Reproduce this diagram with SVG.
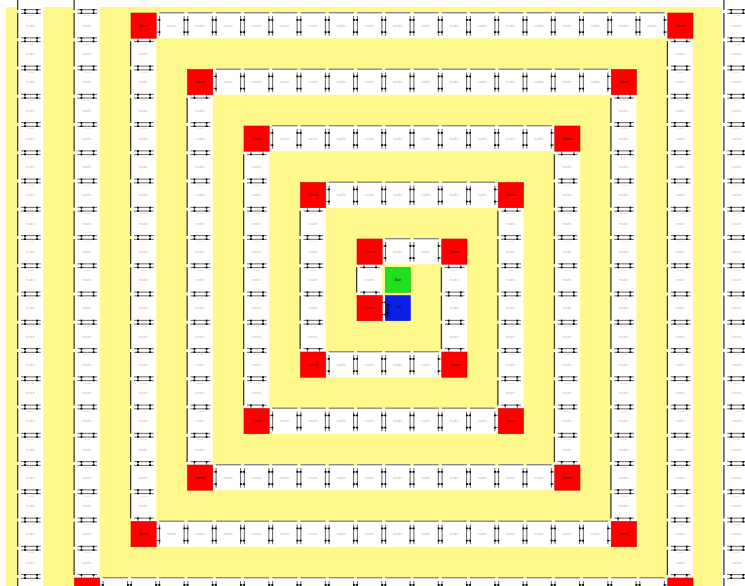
<svg xmlns="http://www.w3.org/2000/svg" width="745" height="586" viewBox="0 0 745 586">
<style>
.w{fill:#fff}
.sh{fill:#8c8c8c}
.vs{fill:#3c3c3c}
.pl{stroke:#222;stroke-width:.7;fill:none}
.pt{fill:#000}
.t{font-family:"Liberation Sans",Arial,sans-serif;font-size:3px;fill:#a8a8a8;text-anchor:middle;letter-spacing:.6px}
.q{font-family:"Liberation Sans",Arial,sans-serif;font-size:1.8px;fill:#7fa8e0;text-anchor:middle;letter-spacing:.4px}
.rt{font-family:"Liberation Sans",Arial,sans-serif;font-size:3.2px;fill:#111;text-anchor:middle}
.e{stroke:#000;stroke-width:.5;stroke-dasharray:3 25;fill:none}
.red{fill:#ff0000;stroke:#c80000;stroke-width:.6}
</style>
<defs>
<g id="H">
<rect class="sh" x="0" y="-1" width="25" height="1.4"/>
<path class="pl" d="M0.35 3V22.5M24.65 3V22.5"/>
<path class="pt" d="M-0.8 6h1.8v1.8h-1.8zM-0.8 18h1.8v1.8h-1.8zM24 6h1.8v1.8h-1.8zM24 18h1.8v1.8h-1.8z"/>
<text class="t" x="12.5" y="13.8">node</text>
</g>
<g id="V">
<rect class="vs" x="-1" y="0" width="1.3" height="25"/>
<path class="pl" d="M3 0.35H22.5M3 24.65H22.5"/>
<path class="pt" d="M6 -0.8h1.8v1.8h-1.8zM18 -0.8h1.8v1.8h-1.8zM6 24h1.8v1.8h-1.8zM18 24h1.8v1.8h-1.8z"/>
<text class="q" x="12.5" y="3.4">in out</text>
<text class="t" x="12.5" y="13.8">node</text>
</g>
<g id="R">
<rect class="red" width="25" height="25"/>
<text class="rt" x="12.5" y="13.8">Corner</text>
</g>
</defs>
<rect width="745" height="586" fill="#fff"/>
<rect x="6" y="7" width="716" height="580" fill="#fff98c"/>
<g transform="translate(357 239) scale(1.00893)">
<g id="strips">
<rect class="w" x="0" y="56" width="53" height="25"/>
<rect class="w" x="0" y="0" width="25" height="81"/>
<rect class="w" x="0" y="0" width="109" height="25"/>
<rect class="w" x="84" y="0" width="25" height="137"/>
<rect class="w" x="-56" y="112" width="165" height="25"/>
<rect class="w" x="-56" y="-56" width="25" height="193"/>
<rect class="w" x="-56" y="-56" width="221" height="25"/>
<rect class="w" x="140" y="-56" width="25" height="249"/>
<rect class="w" x="-112" y="168" width="277" height="25"/>
<rect class="w" x="-112" y="-112" width="25" height="305"/>
<rect class="w" x="-112" y="-112" width="333" height="25"/>
<rect class="w" x="196" y="-112" width="25" height="361"/>
<rect class="w" x="-168" y="224" width="389" height="25"/>
<rect class="w" x="-168" y="-168" width="25" height="417"/>
<rect class="w" x="-168" y="-168" width="445" height="25"/>
<rect class="w" x="252" y="-168" width="25" height="473"/>
<rect class="w" x="-224" y="280" width="501" height="25"/>
<rect class="w" x="-224" y="-224" width="25" height="529"/>
<rect class="w" x="-224" y="-224" width="557" height="25"/>
<rect class="w" x="308" y="-224" width="25" height="585"/>
<rect class="w" x="-280" y="336" width="613" height="25"/>
<rect class="w" x="-280" y="-280" width="25" height="641"/>
<rect class="w" x="364" y="-280" width="25" height="700"/>
<rect class="w" x="-336" y="-280" width="25" height="700"/>
</g>
<g id="connectors">
<path class="e" d="M25 62.9H28"/><path class="e" d="M25 74.9H28"/>
<path class="e" d="M6.9 25V56"/><path class="e" d="M18.9 25V56"/>
<path class="e" d="M25 6.9H84"/><path class="e" d="M25 18.9H84"/>
<path class="e" d="M90.9 25V112"/><path class="e" d="M102.9 25V112"/>
<path class="e" d="M-31 118.9H84"/><path class="e" d="M-31 130.9H84"/>
<path class="e" d="M-49.1 -31V112"/><path class="e" d="M-37.1 -31V112"/>
<path class="e" d="M-31 -49.1H140"/><path class="e" d="M-31 -37.1H140"/>
<path class="e" d="M146.9 -31V168"/><path class="e" d="M158.9 -31V168"/>
<path class="e" d="M-87 174.9H140"/><path class="e" d="M-87 186.9H140"/>
<path class="e" d="M-105.1 -87V168"/><path class="e" d="M-93.1 -87V168"/>
<path class="e" d="M-87 -105.1H196"/><path class="e" d="M-87 -93.1H196"/>
<path class="e" d="M202.9 -87V224"/><path class="e" d="M214.9 -87V224"/>
<path class="e" d="M-143 230.9H196"/><path class="e" d="M-143 242.9H196"/>
<path class="e" d="M-161.1 -143V224"/><path class="e" d="M-149.1 -143V224"/>
<path class="e" d="M-143 -161.1H252"/><path class="e" d="M-143 -149.1H252"/>
<path class="e" d="M258.9 -143V280"/><path class="e" d="M270.9 -143V280"/>
<path class="e" d="M-199 286.9H252"/><path class="e" d="M-199 298.9H252"/>
<path class="e" d="M-217.1 -199V280"/><path class="e" d="M-205.1 -199V280"/>
<path class="e" d="M-199 -217.1H308"/><path class="e" d="M-199 -205.1H308"/>
<path class="e" d="M314.9 -199V336"/><path class="e" d="M326.9 -199V336"/>
<path class="e" d="M-255 342.9H308"/><path class="e" d="M-255 354.9H308"/>
<path class="e" d="M-273.1 -255V336"/><path class="e" d="M-261.1 -255V336"/>
<path class="e" d="M370.9 -255V364"/><path class="e" d="M382.9 -255V364"/>
<path class="e" d="M-329.1 -255V364"/><path class="e" d="M-317.1 -255V364"/>
</g>
<g id="center">
<g id="green"><rect x="28" y="28" width="25" height="25" fill="#1ee01e" stroke="#14b014" stroke-width=".5"/><text class="rt" x="40.5" y="41.5">Start</text></g>
<g id="blue"><rect x="28" y="56" width="25" height="25" fill="#0a1ee8" stroke="#0814b0" stroke-width=".5"/><text class="rt" x="41.5" y="68.5">End</text><text transform="translate(28.3 64.5) rotate(90)" font-family="Liberation Sans,Arial,sans-serif" font-size="5" fill="#000">Begin</text>
<path class="pt" d="M24 62h1.8v1.8h-1.8zM24 74h1.8v1.8h-1.8zM27.2 62h1.8v1.8h-1.8zM27.2 74h1.8v1.8h-1.8z"/><path class="pl" d="M28.4 59V78"/></g>
<use id="r1" href="#R" x="0" y="56"/>
</g>
<g id="nodes">
<use id="n1" href="#V" x="0" y="28"/>
<use id="r2" href="#R" x="0" y="0"/>
<use id="n2" href="#H" x="28" y="0"/><use id="n3" href="#H" x="56" y="0"/>
<use id="r3" href="#R" x="84" y="0"/>
<use id="n4" href="#V" x="84" y="28"/><use id="n5" href="#V" x="84" y="56"/><use id="n6" href="#V" x="84" y="84"/>
<use id="r4" href="#R" x="84" y="112"/>
<use id="n7" href="#H" x="56" y="112"/><use id="n8" href="#H" x="28" y="112"/><use id="n9" href="#H" x="0" y="112"/><use id="n10" href="#H" x="-28" y="112"/>
<use id="r5" href="#R" x="-56" y="112"/>
<use id="n11" href="#V" x="-56" y="84"/><use id="n12" href="#V" x="-56" y="56"/><use id="n13" href="#V" x="-56" y="28"/><use id="n14" href="#V" x="-56" y="0"/><use id="n15" href="#V" x="-56" y="-28"/>
<use id="r6" href="#R" x="-56" y="-56"/>
<use id="n16" href="#H" x="-28" y="-56"/><use id="n17" href="#H" x="0" y="-56"/><use id="n18" href="#H" x="28" y="-56"/><use id="n19" href="#H" x="56" y="-56"/><use id="n20" href="#H" x="84" y="-56"/><use id="n21" href="#H" x="112" y="-56"/>
<use id="r7" href="#R" x="140" y="-56"/>
<use id="n22" href="#V" x="140" y="-28"/><use id="n23" href="#V" x="140" y="0"/><use id="n24" href="#V" x="140" y="28"/><use id="n25" href="#V" x="140" y="56"/><use id="n26" href="#V" x="140" y="84"/><use id="n27" href="#V" x="140" y="112"/><use id="n28" href="#V" x="140" y="140"/>
<use id="r8" href="#R" x="140" y="168"/>
<use id="n29" href="#H" x="112" y="168"/><use id="n30" href="#H" x="84" y="168"/><use id="n31" href="#H" x="56" y="168"/><use id="n32" href="#H" x="28" y="168"/><use id="n33" href="#H" x="0" y="168"/><use id="n34" href="#H" x="-28" y="168"/><use id="n35" href="#H" x="-56" y="168"/><use id="n36" href="#H" x="-84" y="168"/>
<use id="r9" href="#R" x="-112" y="168"/>
<use id="n37" href="#V" x="-112" y="140"/><use id="n38" href="#V" x="-112" y="112"/><use id="n39" href="#V" x="-112" y="84"/><use id="n40" href="#V" x="-112" y="56"/><use id="n41" href="#V" x="-112" y="28"/><use id="n42" href="#V" x="-112" y="0"/><use id="n43" href="#V" x="-112" y="-28"/><use id="n44" href="#V" x="-112" y="-56"/><use id="n45" href="#V" x="-112" y="-84"/>
<use id="r10" href="#R" x="-112" y="-112"/>
<use id="n46" href="#H" x="-84" y="-112"/><use id="n47" href="#H" x="-56" y="-112"/><use id="n48" href="#H" x="-28" y="-112"/><use id="n49" href="#H" x="0" y="-112"/><use id="n50" href="#H" x="28" y="-112"/><use id="n51" href="#H" x="56" y="-112"/><use id="n52" href="#H" x="84" y="-112"/><use id="n53" href="#H" x="112" y="-112"/><use id="n54" href="#H" x="140" y="-112"/><use id="n55" href="#H" x="168" y="-112"/>
<use id="r11" href="#R" x="196" y="-112"/>
<use id="n56" href="#V" x="196" y="-84"/><use id="n57" href="#V" x="196" y="-56"/><use id="n58" href="#V" x="196" y="-28"/><use id="n59" href="#V" x="196" y="0"/><use id="n60" href="#V" x="196" y="28"/><use id="n61" href="#V" x="196" y="56"/><use id="n62" href="#V" x="196" y="84"/><use id="n63" href="#V" x="196" y="112"/><use id="n64" href="#V" x="196" y="140"/><use id="n65" href="#V" x="196" y="168"/><use id="n66" href="#V" x="196" y="196"/>
<use id="r12" href="#R" x="196" y="224"/>
<use id="n67" href="#H" x="168" y="224"/><use id="n68" href="#H" x="140" y="224"/><use id="n69" href="#H" x="112" y="224"/><use id="n70" href="#H" x="84" y="224"/><use id="n71" href="#H" x="56" y="224"/><use id="n72" href="#H" x="28" y="224"/><use id="n73" href="#H" x="0" y="224"/><use id="n74" href="#H" x="-28" y="224"/><use id="n75" href="#H" x="-56" y="224"/><use id="n76" href="#H" x="-84" y="224"/><use id="n77" href="#H" x="-112" y="224"/><use id="n78" href="#H" x="-140" y="224"/>
<use id="r13" href="#R" x="-168" y="224"/>
<use id="n79" href="#V" x="-168" y="196"/><use id="n80" href="#V" x="-168" y="168"/><use id="n81" href="#V" x="-168" y="140"/><use id="n82" href="#V" x="-168" y="112"/><use id="n83" href="#V" x="-168" y="84"/><use id="n84" href="#V" x="-168" y="56"/><use id="n85" href="#V" x="-168" y="28"/><use id="n86" href="#V" x="-168" y="0"/><use id="n87" href="#V" x="-168" y="-28"/><use id="n88" href="#V" x="-168" y="-56"/><use id="n89" href="#V" x="-168" y="-84"/><use id="n90" href="#V" x="-168" y="-112"/><use id="n91" href="#V" x="-168" y="-140"/>
<use id="r14" href="#R" x="-168" y="-168"/>
<use id="n92" href="#H" x="-140" y="-168"/><use id="n93" href="#H" x="-112" y="-168"/><use id="n94" href="#H" x="-84" y="-168"/><use id="n95" href="#H" x="-56" y="-168"/><use id="n96" href="#H" x="-28" y="-168"/><use id="n97" href="#H" x="0" y="-168"/><use id="n98" href="#H" x="28" y="-168"/><use id="n99" href="#H" x="56" y="-168"/><use id="n100" href="#H" x="84" y="-168"/><use id="n101" href="#H" x="112" y="-168"/><use id="n102" href="#H" x="140" y="-168"/><use id="n103" href="#H" x="168" y="-168"/><use id="n104" href="#H" x="196" y="-168"/><use id="n105" href="#H" x="224" y="-168"/>
<use id="r15" href="#R" x="252" y="-168"/>
<use id="n106" href="#V" x="252" y="-140"/><use id="n107" href="#V" x="252" y="-112"/><use id="n108" href="#V" x="252" y="-84"/><use id="n109" href="#V" x="252" y="-56"/><use id="n110" href="#V" x="252" y="-28"/><use id="n111" href="#V" x="252" y="0"/><use id="n112" href="#V" x="252" y="28"/><use id="n113" href="#V" x="252" y="56"/><use id="n114" href="#V" x="252" y="84"/><use id="n115" href="#V" x="252" y="112"/><use id="n116" href="#V" x="252" y="140"/><use id="n117" href="#V" x="252" y="168"/><use id="n118" href="#V" x="252" y="196"/><use id="n119" href="#V" x="252" y="224"/><use id="n120" href="#V" x="252" y="252"/>
<use id="r16" href="#R" x="252" y="280"/>
<use id="n121" href="#H" x="224" y="280"/><use id="n122" href="#H" x="196" y="280"/><use id="n123" href="#H" x="168" y="280"/><use id="n124" href="#H" x="140" y="280"/><use id="n125" href="#H" x="112" y="280"/><use id="n126" href="#H" x="84" y="280"/><use id="n127" href="#H" x="56" y="280"/><use id="n128" href="#H" x="28" y="280"/><use id="n129" href="#H" x="0" y="280"/><use id="n130" href="#H" x="-28" y="280"/><use id="n131" href="#H" x="-56" y="280"/><use id="n132" href="#H" x="-84" y="280"/><use id="n133" href="#H" x="-112" y="280"/><use id="n134" href="#H" x="-140" y="280"/><use id="n135" href="#H" x="-168" y="280"/><use id="n136" href="#H" x="-196" y="280"/>
<use id="r17" href="#R" x="-224" y="280"/>
<use id="n137" href="#V" x="-224" y="252"/><use id="n138" href="#V" x="-224" y="224"/><use id="n139" href="#V" x="-224" y="196"/><use id="n140" href="#V" x="-224" y="168"/><use id="n141" href="#V" x="-224" y="140"/><use id="n142" href="#V" x="-224" y="112"/><use id="n143" href="#V" x="-224" y="84"/><use id="n144" href="#V" x="-224" y="56"/><use id="n145" href="#V" x="-224" y="28"/><use id="n146" href="#V" x="-224" y="0"/><use id="n147" href="#V" x="-224" y="-28"/><use id="n148" href="#V" x="-224" y="-56"/><use id="n149" href="#V" x="-224" y="-84"/><use id="n150" href="#V" x="-224" y="-112"/><use id="n151" href="#V" x="-224" y="-140"/><use id="n152" href="#V" x="-224" y="-168"/><use id="n153" href="#V" x="-224" y="-196"/>
<use id="r18" href="#R" x="-224" y="-224"/>
<use id="n154" href="#H" x="-196" y="-224"/><use id="n155" href="#H" x="-168" y="-224"/><use id="n156" href="#H" x="-140" y="-224"/><use id="n157" href="#H" x="-112" y="-224"/><use id="n158" href="#H" x="-84" y="-224"/><use id="n159" href="#H" x="-56" y="-224"/><use id="n160" href="#H" x="-28" y="-224"/><use id="n161" href="#H" x="0" y="-224"/><use id="n162" href="#H" x="28" y="-224"/><use id="n163" href="#H" x="56" y="-224"/><use id="n164" href="#H" x="84" y="-224"/><use id="n165" href="#H" x="112" y="-224"/><use id="n166" href="#H" x="140" y="-224"/><use id="n167" href="#H" x="168" y="-224"/><use id="n168" href="#H" x="196" y="-224"/><use id="n169" href="#H" x="224" y="-224"/><use id="n170" href="#H" x="252" y="-224"/><use id="n171" href="#H" x="280" y="-224"/>
<use id="r19" href="#R" x="308" y="-224"/>
<use id="n172" href="#V" x="308" y="-196"/><use id="n173" href="#V" x="308" y="-168"/><use id="n174" href="#V" x="308" y="-140"/><use id="n175" href="#V" x="308" y="-112"/><use id="n176" href="#V" x="308" y="-84"/><use id="n177" href="#V" x="308" y="-56"/><use id="n178" href="#V" x="308" y="-28"/><use id="n179" href="#V" x="308" y="0"/><use id="n180" href="#V" x="308" y="28"/><use id="n181" href="#V" x="308" y="56"/><use id="n182" href="#V" x="308" y="84"/><use id="n183" href="#V" x="308" y="112"/><use id="n184" href="#V" x="308" y="140"/><use id="n185" href="#V" x="308" y="168"/><use id="n186" href="#V" x="308" y="196"/><use id="n187" href="#V" x="308" y="224"/><use id="n188" href="#V" x="308" y="252"/><use id="n189" href="#V" x="308" y="280"/><use id="n190" href="#V" x="308" y="308"/>
<use id="r20" href="#R" x="308" y="336"/>
<use id="n191" href="#H" x="280" y="336"/><use id="n192" href="#H" x="252" y="336"/><use id="n193" href="#H" x="224" y="336"/><use id="n194" href="#H" x="196" y="336"/><use id="n195" href="#H" x="168" y="336"/><use id="n196" href="#H" x="140" y="336"/><use id="n197" href="#H" x="112" y="336"/><use id="n198" href="#H" x="84" y="336"/><use id="n199" href="#H" x="56" y="336"/><use id="n200" href="#H" x="28" y="336"/><use id="n201" href="#H" x="0" y="336"/><use id="n202" href="#H" x="-28" y="336"/><use id="n203" href="#H" x="-56" y="336"/><use id="n204" href="#H" x="-84" y="336"/><use id="n205" href="#H" x="-112" y="336"/><use id="n206" href="#H" x="-140" y="336"/><use id="n207" href="#H" x="-168" y="336"/><use id="n208" href="#H" x="-196" y="336"/><use id="n209" href="#H" x="-224" y="336"/><use id="n210" href="#H" x="-252" y="336"/>
<use id="r21" href="#R" x="-280" y="336"/>
<use id="n211" href="#V" x="-280" y="308"/><use id="n212" href="#V" x="-280" y="280"/><use id="n213" href="#V" x="-280" y="252"/><use id="n214" href="#V" x="-280" y="224"/><use id="n215" href="#V" x="-280" y="196"/><use id="n216" href="#V" x="-280" y="168"/><use id="n217" href="#V" x="-280" y="140"/><use id="n218" href="#V" x="-280" y="112"/><use id="n219" href="#V" x="-280" y="84"/><use id="n220" href="#V" x="-280" y="56"/><use id="n221" href="#V" x="-280" y="28"/><use id="n222" href="#V" x="-280" y="0"/><use id="n223" href="#V" x="-280" y="-28"/><use id="n224" href="#V" x="-280" y="-56"/><use id="n225" href="#V" x="-280" y="-84"/><use id="n226" href="#V" x="-280" y="-112"/><use id="n227" href="#V" x="-280" y="-140"/><use id="n228" href="#V" x="-280" y="-168"/><use id="n229" href="#V" x="-280" y="-196"/><use id="n230" href="#V" x="-280" y="-224"/><use id="n231" href="#V" x="-280" y="-252"/>
<use id="n232" href="#V" x="364" y="-252"/><use id="n233" href="#V" x="364" y="-224"/><use id="n234" href="#V" x="364" y="-196"/><use id="n235" href="#V" x="364" y="-168"/><use id="n236" href="#V" x="364" y="-140"/><use id="n237" href="#V" x="364" y="-112"/><use id="n238" href="#V" x="364" y="-84"/><use id="n239" href="#V" x="364" y="-56"/><use id="n240" href="#V" x="364" y="-28"/><use id="n241" href="#V" x="364" y="0"/><use id="n242" href="#V" x="364" y="28"/><use id="n243" href="#V" x="364" y="56"/><use id="n244" href="#V" x="364" y="84"/><use id="n245" href="#V" x="364" y="112"/><use id="n246" href="#V" x="364" y="140"/><use id="n247" href="#V" x="364" y="168"/><use id="n248" href="#V" x="364" y="196"/><use id="n249" href="#V" x="364" y="224"/><use id="n250" href="#V" x="364" y="252"/><use id="n251" href="#V" x="364" y="280"/><use id="n252" href="#V" x="364" y="308"/><use id="n253" href="#V" x="364" y="336"/>
<use id="n254" href="#V" x="-336" y="-252"/><use id="n255" href="#V" x="-336" y="-224"/><use id="n256" href="#V" x="-336" y="-196"/><use id="n257" href="#V" x="-336" y="-168"/><use id="n258" href="#V" x="-336" y="-140"/><use id="n259" href="#V" x="-336" y="-112"/><use id="n260" href="#V" x="-336" y="-84"/><use id="n261" href="#V" x="-336" y="-56"/><use id="n262" href="#V" x="-336" y="-28"/><use id="n263" href="#V" x="-336" y="0"/><use id="n264" href="#V" x="-336" y="28"/><use id="n265" href="#V" x="-336" y="56"/><use id="n266" href="#V" x="-336" y="84"/><use id="n267" href="#V" x="-336" y="112"/><use id="n268" href="#V" x="-336" y="140"/><use id="n269" href="#V" x="-336" y="168"/><use id="n270" href="#V" x="-336" y="196"/><use id="n271" href="#V" x="-336" y="224"/><use id="n272" href="#V" x="-336" y="252"/><use id="n273" href="#V" x="-336" y="280"/><use id="n274" href="#V" x="-336" y="308"/><use id="n275" href="#V" x="-336" y="336"/>
</g>
</g>
</svg>
